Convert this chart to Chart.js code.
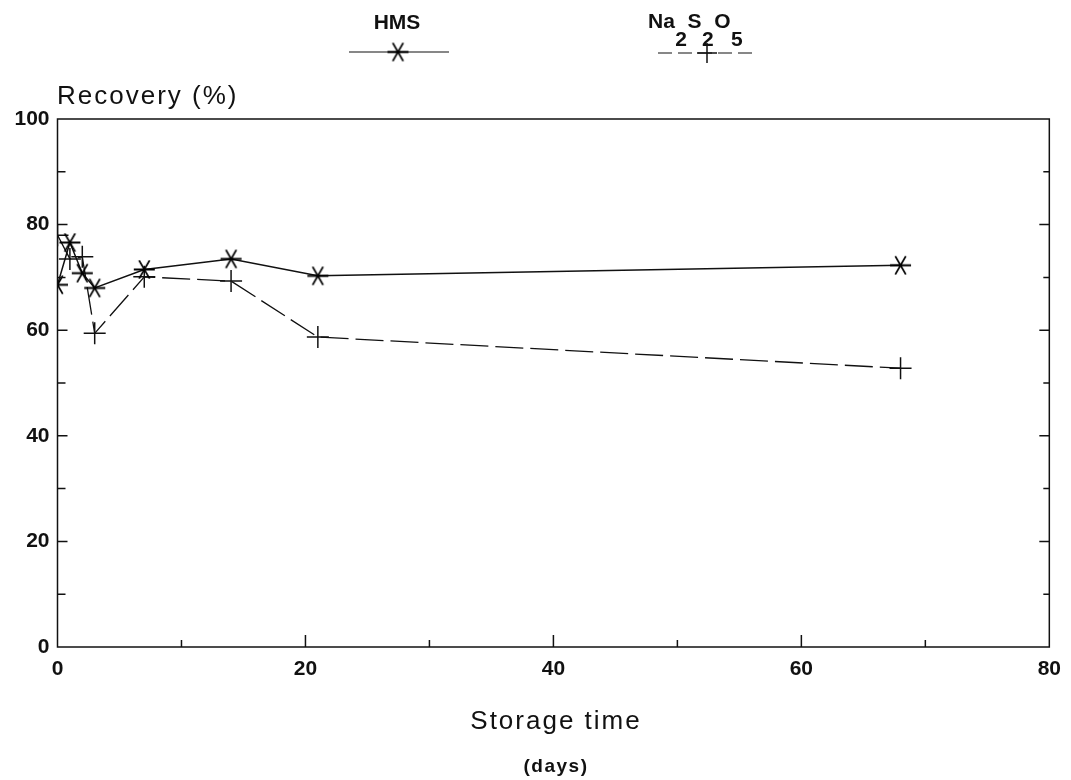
<!DOCTYPE html>
<html>
<head>
<meta charset="utf-8">
<script src="https://cdn.jsdelivr.net/npm/chart.js@4/dist/chart.umd.min.js"></script>
<style>
  html, body { margin: 0; padding: 0; background: #fff; }
  #wrap { width: 1071px; height: 780px; }
</style>
</head>
<body>
<div id="wrap"><canvas id="chart" width="1071" height="780"></canvas></div>
<script>
// storage time in days
var days = [0, 1, 2, 3, 7, 14, 21, 68];
// recovery (%) per series
var hmsRecovery = [68.6, 76.6, 70.8, 68.0, 71.5, 73.5, 70.3, 72.3];
var naRecovery = [78.0, 73.5, 73.9, 59.4, 70.1, 69.3, 58.7, 52.8];
var xTicks = [0, 20, 40, 60, 80];
var yTicks = [0, 20, 40, 60, 80, 100];

var ink = '#111';
var fontFam = '"Liberation Sans", Arial, sans-serif';

function toPoints(xs, ys) {
    var pts = [];
    for (var i = 0; i < xs.length; i++) pts.push({x: xs[i], y: ys[i]});
    return pts;
}

// six armed asterisk marker (X plus horizontal bar)
function makeAsterisk(r) {
    var c = document.createElement('canvas');
    var s = Math.ceil(r * 2 + 4);
    c.width = s; c.height = s;
    var g = c.getContext('2d');
    g.strokeStyle = '#000';
    g.lineWidth = 1.8;
    var m = s / 2;
    g.beginPath();
    for (var k = 0; k < 3; k++) {
        var a = k * Math.PI / 3;
        g.moveTo(m - r * Math.cos(a), m - r * Math.sin(a));
        g.lineTo(m + r * Math.cos(a), m + r * Math.sin(a));
    }
    g.stroke();
    return c;
}
var asterisk = makeAsterisk(10.5);

function drawAsteriskAt(ctx, x, y) {
    ctx.drawImage(asterisk, x - asterisk.width / 2, y - asterisk.height / 2);
}
function drawPlusAt(ctx, x, y, r) {
    ctx.beginPath();
    ctx.moveTo(x - r, y); ctx.lineTo(x + r, y);
    ctx.moveTo(x, y - r); ctx.lineTo(x, y + r);
    ctx.stroke();
}

var framePlugin = {
    id: 'frame',
    afterDraw: function(chart) {
        var ctx = chart.ctx;
        var a = chart.chartArea;
        var xs = chart.scales.x, ys = chart.scales.y;
        ctx.save();
        ctx.strokeStyle = ink;
        ctx.lineWidth = 1.5;
        ctx.strokeRect(a.left, a.top, a.right - a.left, a.bottom - a.top);

        // inward ticks
        ctx.beginPath();
        for (var v = 10; v < 80; v += 10) {
            var px = xs.getPixelForValue(v);
            var len = (v % 20 == 0) ? 12 : 7;
            ctx.moveTo(px, a.bottom); ctx.lineTo(px, a.bottom - len);
        }
        for (var w = 10; w < 100; w += 10) {
            var py = ys.getPixelForValue(w);
            var l1 = (w % 20 == 0) ? 10 : 8;
            var l2 = (w % 20 == 0) ? 10 : 6;
            ctx.moveTo(a.left, py); ctx.lineTo(a.left + l1, py);
            ctx.moveTo(a.right, py); ctx.lineTo(a.right - l2, py);
        }
        ctx.stroke();

        // titles
        ctx.fillStyle = ink;
        ctx.textBaseline = 'middle';
        ctx.textAlign = 'left';
        ctx.letterSpacing = '2px';
        ctx.font = '26px ' + fontFam;
        ctx.fillText('Recovery (%)', 57, 97);
        ctx.textAlign = 'center';
        ctx.fillText('Storage time', 556, 722);
        ctx.letterSpacing = '1.5px';
        ctx.font = 'bold 19px ' + fontFam;
        ctx.fillText('(days)', 556, 767);
        ctx.letterSpacing = '0px';

        // legend
        ctx.font = 'bold 21px ' + fontFam;
        ctx.fillText('HMS', 397, 23);
        ctx.lineWidth = 1.2;
        ctx.beginPath();
        ctx.moveTo(349, 52); ctx.lineTo(449, 52);
        ctx.stroke();
        drawAsteriskAt(ctx, 398, 52);

        ctx.textAlign = 'left';
        var parts = [['Na', 0], ['2', 1], ['S', 0], ['2', 1], ['O', 0], ['5', 1]];
        var tx = 648;
        for (var i = 0; i < parts.length; i++) {
            ctx.fillText(parts[i][0], tx, parts[i][1] ? 40 : 22);
            tx += ctx.measureText(parts[i][0]).width + 0.5;
        }
        ctx.setLineDash([14, 6]);
        ctx.beginPath();
        ctx.moveTo(658, 53); ctx.lineTo(758, 53);
        ctx.stroke();
        ctx.setLineDash([]);
        ctx.lineWidth = 1.5;
        drawPlusAt(ctx, 707, 53, 10);
        ctx.restore();
    }
};

var tickFont = {family: fontFam, size: 21, weight: 'bold'};

var chart = new Chart(document.getElementById('chart').getContext('2d'), {
    type: 'line',
    data: {
        datasets: [
            {
                label: 'HMS',
                data: toPoints(days, hmsRecovery),
                borderColor: ink,
                borderWidth: 1.5,
                pointStyle: asterisk,
                pointRadius: 10,
                fill: false,
                tension: 0
            },
            {
                label: 'Na2S2O5',
                data: toPoints(days, naRecovery),
                borderColor: ink,
                borderWidth: 1.3,
                borderDash: [28, 7],
                pointStyle: 'cross',
                pointRadius: 11,
                pointBorderWidth: 1.5,
                pointBorderColor: ink,
                fill: false,
                tension: 0
            }
        ]
    },
    options: {
        responsive: false,
        animation: false,
        layout: { padding: { top: 119, right: 17, left: 0, bottom: 0 } },
        plugins: {
            legend: { display: false },
            tooltip: { enabled: false }
        },
        scales: {
            x: {
                type: 'linear',
                min: 0,
                max: 80,
                afterFit: function(scale) { scale.height = 133; },
                afterBuildTicks: function(scale) {
                    scale.ticks = xTicks.map(function(v) { return {value: v}; });
                },
                grid: { display: false, drawTicks: false },
                border: { display: false },
                ticks: { color: ink, font: tickFont, padding: 10, maxRotation: 0 }
            },
            y: {
                min: 0,
                max: 100,
                afterFit: function(scale) { scale.width = 57.5; },
                afterBuildTicks: function(scale) {
                    scale.ticks = yTicks.map(function(v) { return {value: v}; });
                },
                grid: { display: false, drawTicks: false },
                border: { display: false },
                ticks: { color: ink, font: tickFont, padding: 8 }
            }
        }
    },
    plugins: [framePlugin]
});
</script>
</body>
</html>
